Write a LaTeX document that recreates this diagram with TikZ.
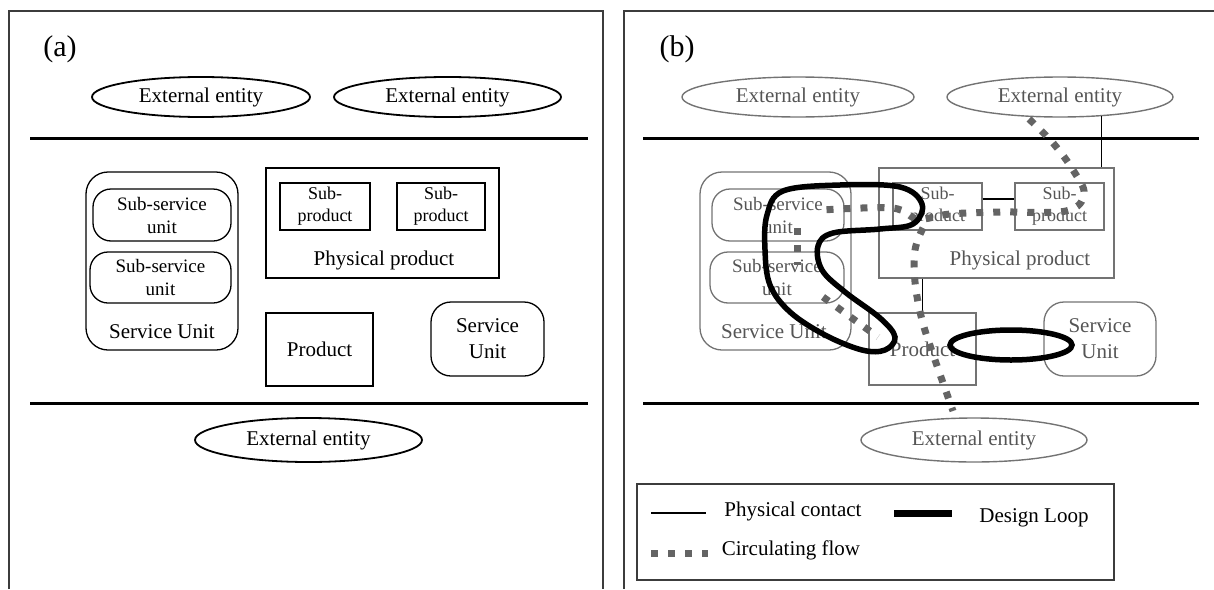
\documentclass[tikz,border=0pt]{standalone}
\usepackage{fontspec}
\setmainfont{Liberation Serif}
\usetikzlibrary{shapes.geometric}
\definecolor{bgray}{RGB}{85,85,85}
\definecolor{bline}{RGB}{115,115,115}
\definecolor{flowc}{RGB}{100,100,100}
\definecolor{framec}{RGB}{60,60,60}
\tikzset{
  txt/.style={inner sep=0pt, font=\fontsize{21}{24}\selectfont},
  lbl/.style={inner sep=0pt, font=\fontsize{30}{34}\selectfont},
  ext/.style={ellipse, draw, line width=1.8pt, inner sep=0pt, minimum height=40pt, font=\fontsize{21}{24}\selectfont},
  box/.style={draw, line width=1.3pt, inner sep=0pt, align=center},
  rbox/.style={box, rounded corners=20pt},
  ssub/.style={box, rounded corners=18pt, font=\fontsize{19}{23}\selectfont},
  sprod/.style={box, font=\fontsize{18}{22}\selectfont},
  sep/.style={line width=3pt, black},
  pcont/.style={line width=1.3pt, black},
  dloop/.style={line width=5.5pt, black},
  cflow/.style={draw=flowc, line width=7pt, dash pattern=on 7pt off 10pt},
  grayb/.style={draw=bline, text=bgray},
}
\begin{document}
\begin{tikzpicture}[x=1pt,y=-1pt]
\useasboundingbox (0,0) rectangle (1214,589);
% frames
\draw[framec, line width=1.2pt] (9,589) -- (9,11) -- (603,11) -- (603,589);
\draw[framec, line width=1.2pt] (1214,11) -- (624,11) -- (624,589);

% ===== Panel (a) =====
\node[lbl] (la) at (60,49) {(a)};
\node[ext, minimum width=218pt] (ea1) at (201,97) {External entity};
\node[ext, minimum width=227pt] (ea2) at (447.5,97) {External entity};
\draw[sep] (30,138) -- (588,138);
\node[rbox, rounded corners=22pt, minimum width=152pt, minimum height=178pt] (sua) at (162,261) {};
\node[ssub, minimum width=138pt, minimum height=52pt] (ssa1) at (162,215) {Sub-service\\unit};
\node[ssub, minimum width=141pt, minimum height=51pt] (ssa2) at (160.5,277.5) {Sub-service\\unit};
\node[txt] (sut) at (162,332) {Service Unit};
\node[box, minimum width=233pt, minimum height=110pt] (ppa) at (382.5,223) {};
\node[sprod, minimum width=90pt, minimum height=47pt] (spa1) at (325,206.5) {Sub-\\product};
\node[sprod, minimum width=88pt, minimum height=47pt] (spa2) at (441,206.5) {Sub-\\product};
\node[txt] (ppt) at (384,260) {Physical product};
\node[box, minimum width=107pt, minimum height=73pt, font=\fontsize{21}{24}\selectfont] (proda) at (319.5,349.5) {Product};
\node[rbox, minimum width=113pt, minimum height=74pt, font=\fontsize{21}{26}\selectfont] (sra) at (487.5,339) {Service\\Unit};
\draw[sep] (30,403) -- (588,403);
\node[ext, minimum width=227pt, minimum height=44pt] (ea3) at (308.5,440) {External entity};

% ===== Panel (b) =====
\node[lbl] (lb) at (677,49) {(b)};
\node[ext, grayb, line width=1.4pt, minimum width=232pt] (eb1) at (798,97) {External entity};
\node[ext, grayb, line width=1.4pt, minimum width=226pt] (eb2) at (1060,97) {External entity};
\draw[sep] (643,138) -- (1199,138);
\node[rbox, grayb, rounded corners=22pt, minimum width=151pt, minimum height=178pt] (sub) at (775.5,261) {};
\node[ssub, grayb, minimum width=132pt, minimum height=52pt] (ssb1) at (778,215) {Sub-service\\unit};
\node[ssub, grayb, minimum width=134pt, minimum height=51pt] (ssb2) at (777,277.5) {Sub-service\\unit};
\node[txt, text=bgray] (sbt) at (774,332) {Service Unit};
\node[box, grayb, minimum width=235pt, minimum height=110pt] (ppb) at (996.5,223) {};
\node[sprod, grayb, minimum width=89pt, minimum height=47pt] (spb1) at (937.5,206.5) {Sub-\\product};
\node[sprod, grayb, minimum width=89pt, minimum height=47pt] (spb2) at (1059.5,206.5) {Sub-\\product};
\node[txt, text=bgray] (ppbt) at (1020,260) {Physical product};
\node[box, grayb, minimum width=107pt, minimum height=72pt, font=\fontsize{21}{24}\selectfont] (prodb) at (922.5,349) {Product};
\node[rbox, grayb, minimum width=112pt, minimum height=74pt, font=\fontsize{21}{26}\selectfont] (srb) at (1100,339) {Service\\Unit};
\draw[sep] (643,403) -- (1199,403);
\node[ext, grayb, line width=1.4pt, minimum width=226pt, minimum height=44pt] (eb3) at (974,440) {External entity};

% physical contacts
\draw[pcont] (eb2.-25) -- (eb2.-25 |- ppb.north);
\draw[pcont] ([yshift=7.5pt]spb1.east) -- ([yshift=7.5pt]spb2.west);
\draw[pcont] (prodb.north |- ppb.south) -- (prodb.north);

% circulating flows
\draw[cflow] plot[smooth, tension=0.6] coordinates {(1029,119) (1053,143) (1073,170) (1084,194) (1066,211) (1000,212) (950,214) (918,219) (892,208) (822,210)};
\draw[cflow] (797,228) -- (797,265);
\draw[cflow] (823,297) -- (878,337);
\draw[cflow] plot[smooth, tension=0.6] coordinates {(923,228) (915,250) (915,282) (922,320) (935,360) (953,411)};

% design loops
\draw[dloop] plot[smooth cycle, tension=0.6] coordinates {(783,191) (840,185) (900,187) (922,204) (913,224) (880,229) (833,233) (818,246) (822,270) (845,292) (880,318) (895,337) (885,350) (862,350) (825,335) (790,312) (770,285) (765,250) (767,215)};
\draw[dloop] (1011,345) ellipse [x radius=61, y radius=15];

% legend
\node[draw=framec, line width=1.3pt, minimum width=477pt, minimum height=96pt, inner sep=0pt] (lg) at (875.5,532) {};
\coordinate (l1a) at (651,513); \coordinate (l1b) at (706,513);
\coordinate (l2a) at (894,513); \coordinate (l2b) at (952,513);
\coordinate (l3a) at (651,553); \coordinate (l3b) at (708,553);
\draw[pcont] (l1a) -- (l1b);
\draw[line width=7pt, black] (l2a) -- (l2b);
\draw[cflow] (l3a) -- (l3b);
\node[txt] (lt1) at (793,511) {Physical contact};
\node[txt] (lt2) at (1034,518) {Design Loop};
\node[txt] (lt3) at (791,550) {Circulating flow};
\end{tikzpicture}
\end{document}
